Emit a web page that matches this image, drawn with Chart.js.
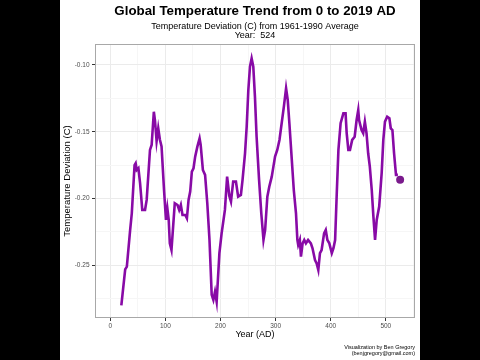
<!DOCTYPE html>
<html>
<head>
<meta charset="utf-8">
<script src="https://cdn.jsdelivr.net/npm/chart.js@4/dist/chart.umd.min.js"></script>
<style>
  html, body { margin: 0; padding: 0; background: #000; width: 480px; height: 360px; overflow: hidden; }
  #wrap { position: absolute; left: 60px; top: 0; width: 360px; height: 360px; background: #fff; }
  canvas { display: block; }
</style>
</head>
<body>
<div id="wrap"><canvas id="c" width="360" height="360"></canvas></div>
<script>
// ---- Data ----
const years = [20, 27, 30, 36, 39, 44, 46, 48, 51, 54, 58, 63, 66, 72, 75, 79, 81, 84, 87, 90, 93, 97.5,
  101, 103.5, 106, 108, 111, 114, 117, 122, 125, 128, 131, 136, 139, 142, 145, 148, 151, 154, 158, 162,
  164, 168, 172, 176, 180, 184, 187, 190, 193, 198, 202, 208, 212, 216, 219, 223, 228, 232, 237, 240,
  244.5, 247.5, 250.5, 253.5, 256.5, 259.5, 262.5, 265.5, 270, 274, 278, 281, 285, 288.5, 293, 296, 299,
  303, 307, 311, 315, 319, 322, 325, 329, 333, 337, 339.5, 341, 344, 346, 349, 352, 355, 359, 364, 367,
  371.5, 374.5, 377.5, 380.5, 383.5, 388, 391, 394, 397.5, 402, 405, 408, 411, 414, 418, 423, 427, 429,
  432, 435, 439, 443.5, 447, 450, 451.5, 456, 459, 462, 465, 468, 471, 474.5, 477.5, 480.5, 483.5, 488,
  492.5, 495.5, 498.5, 502.5, 506.5, 509, 512, 515, 518.5, 522];
const temps = [-0.280, -0.253, -0.251, -0.2235, -0.211, -0.175, -0.1736, -0.1786, -0.1773, -0.1885, -0.2085,
  -0.2085, -0.201, -0.1636, -0.1599, -0.135, -0.1412, -0.157, -0.1474, -0.156, -0.161, -0.1936,
  -0.216, -0.2073, -0.216, -0.2335, -0.2385, -0.221, -0.2035, -0.2048, -0.2085, -0.2048, -0.2123, -0.2123,
  -0.2148, -0.201, -0.1948, -0.1798, -0.1773, -0.1686, -0.1611, -0.1549,
  -0.1599, -0.1786, -0.1823, -0.2035, -0.231, -0.2721, -0.2759, -0.2697, -0.2772, -0.2409, -0.226, -0.2085,
  -0.1836, -0.198, -0.2023, -0.1873, -0.1873, -0.1986, -0.1973, -0.186,
  -0.1661, -0.1462, -0.1187, -0.1012, -0.095, -0.1012, -0.1237, -0.1537, -0.186, -0.211, -0.231, -0.2235,
  -0.1986, -0.1911, -0.1836, -0.1761, -0.1686,
  -0.1636, -0.1561, -0.1436, -0.1312, -0.1174, -0.1262, -0.1436, -0.1686, -0.1936, -0.211, -0.231, -0.2347,
  -0.231, -0.2435, -0.2335, -0.231, -0.2335, -0.231, -0.2335, -0.2372,
  -0.246, -0.2485, -0.2534, -0.2409, -0.2385, -0.226, -0.2235, -0.231, -0.2335, -0.2409, -0.2372, -0.231,
  -0.196, -0.1636, -0.1436, -0.1362, -0.1362, -0.1511,
  -0.1636, -0.1636, -0.1561, -0.1537, -0.1412, -0.1337, -0.1412, -0.1487, -0.1511, -0.1424, -0.1511, -0.1661,
  -0.1761, -0.1936, -0.2135, -0.231, -0.216, -0.206,
  -0.181, -0.1561, -0.1424, -0.1387, -0.1399, -0.1474, -0.1487, -0.1661, -0.1823, -0.1823];
const currentYear = [526];
const currentTemp = [-0.186];

const xTickValues = [0, 50, 100, 150, 200, 250, 300, 350, 400, 450, 500, 550];
const yTickValues = [-0.275, -0.25, -0.225, -0.2, -0.175, -0.15, -0.125, -0.1];

const titleText = 'Global Temperature Trend from 0 to 2019 AD';
const subtitleLines = ['Temperature Deviation (C) from 1961-1990 Average', 'Year:  524'];
const captionLines = ['Visualization by Ben Gregory', '(benjgregory@gmail.com)'];

// ---- Helpers ----
const FONT = '"Liberation Sans", Arial, sans-serif';
const isMajorX = v => Math.round(v) % 100 === 0;
const isMajorY = v => Math.round(v * 1000) % 50 === 0;

const decorPlugin = {
  id: 'decor',
  beforeDatasetsDraw(chart) {
    const { ctx, chartArea: a } = chart;
    ctx.save();
    ctx.strokeStyle = '#a8a8a8';
    ctx.lineWidth = 1;
    ctx.strokeRect(Math.round(a.left) + 0.5, Math.round(a.top) + 0.5,
      Math.round(a.right - a.left) - 1, Math.round(a.bottom - a.top) - 1);
    ctx.restore();
  },
  afterDraw(chart) {
    const { ctx, chartArea: a } = chart;
    const cx = (a.left + a.right) / 2;
    ctx.save();
    ctx.fillStyle = '#000';
    ctx.textAlign = 'center';
    ctx.textBaseline = 'alphabetic';
    ctx.font = 'bold 13.3px ' + FONT;
    ctx.fillText(titleText, cx, 15);
    ctx.font = '9px ' + FONT;
    ctx.fillText(subtitleLines[0], cx, 29);
    ctx.fillText(subtitleLines[1], cx, 37.5);
    ctx.textAlign = 'right';
    ctx.font = '5.5px ' + FONT;
    ctx.fillText(captionLines[0], 355, 349.3);
    ctx.fillText(captionLines[1], 355, 354.5);
    ctx.restore();
  }
};

new Chart(document.getElementById('c'), {
  type: 'line',
  data: {
    datasets: [
      {
        data: years.map((y, i) => ({ x: y, y: temps[i] })),
        borderColor: '#880aa6',
        borderWidth: 2.6,
        pointRadius: 0,
        tension: 0,
        fill: false
      },
      {
        type: 'scatter',
        data: currentYear.map((y, i) => ({ x: y, y: currentTemp[i] })),
        backgroundColor: '#7a1a8c',
        borderColor: '#7a1a8c',
        pointRadius: 4,
        borderWidth: 0
      }
    ]
  },
  options: {
    responsive: false,
    animation: false,
    devicePixelRatio: 1,
    layout: { padding: { top: 44, right: 5, bottom: 0, left: 0 } },
    plugins: { legend: { display: false }, tooltip: { enabled: false }, title: { display: false } },
    scales: {
      x: {
        type: 'linear',
        min: -27.8,
        max: 553,
        afterBuildTicks: s => { s.ticks = xTickValues.map(v => ({ value: v })); },
        afterFit: s => { s.height = 42; },
        border: { display: false },
        grid: {
          color: c => (c.tick && isMajorX(c.tick.value)) ? '#ebebeb' : '#f6f6f6',
          tickColor: c => (c.tick && isMajorX(c.tick.value)) ? '#333333' : 'rgba(0,0,0,0)',
          tickLength: 3,
          lineWidth: 1
        },
        ticks: {
          callback: v => isMajorX(v) ? String(v) : '',
          font: { family: FONT, size: 6.5 },
          color: '#4d4d4d',
          padding: 1,
          maxRotation: 0,
          autoSkip: false
        },
        title: {
          display: true,
          text: 'Year (AD)',
          font: { family: FONT, size: 9 },
          color: '#000',
          padding: { top: 0, bottom: 19.6 }
        }
      },
      y: {
        type: 'linear',
        min: -0.2894,
        max: -0.0843,
        afterBuildTicks: s => { s.ticks = yTickValues.map(v => ({ value: v })); },
        afterFit: s => { s.width = 35; },
        border: { display: false },
        grid: {
          color: c => (c.tick && isMajorY(c.tick.value)) ? '#ebebeb' : '#f6f6f6',
          tickColor: c => (c.tick && isMajorY(c.tick.value)) ? '#333333' : 'rgba(0,0,0,0)',
          tickLength: 3,
          lineWidth: 1
        },
        ticks: {
          callback: v => isMajorY(v) ? v.toFixed(2) : '',
          font: { family: FONT, size: 6.5 },
          color: '#4d4d4d',
          padding: 2.5,
          autoSkip: false
        },
        title: {
          display: true,
          text: 'Temperature Deviation (C)',
          font: { family: FONT, size: 9.5 },
          color: '#000',
          padding: { top: 1.3, bottom: 0 }
        }
      }
    }
  },
  plugins: [decorPlugin]
});
</script>
</body>
</html>
